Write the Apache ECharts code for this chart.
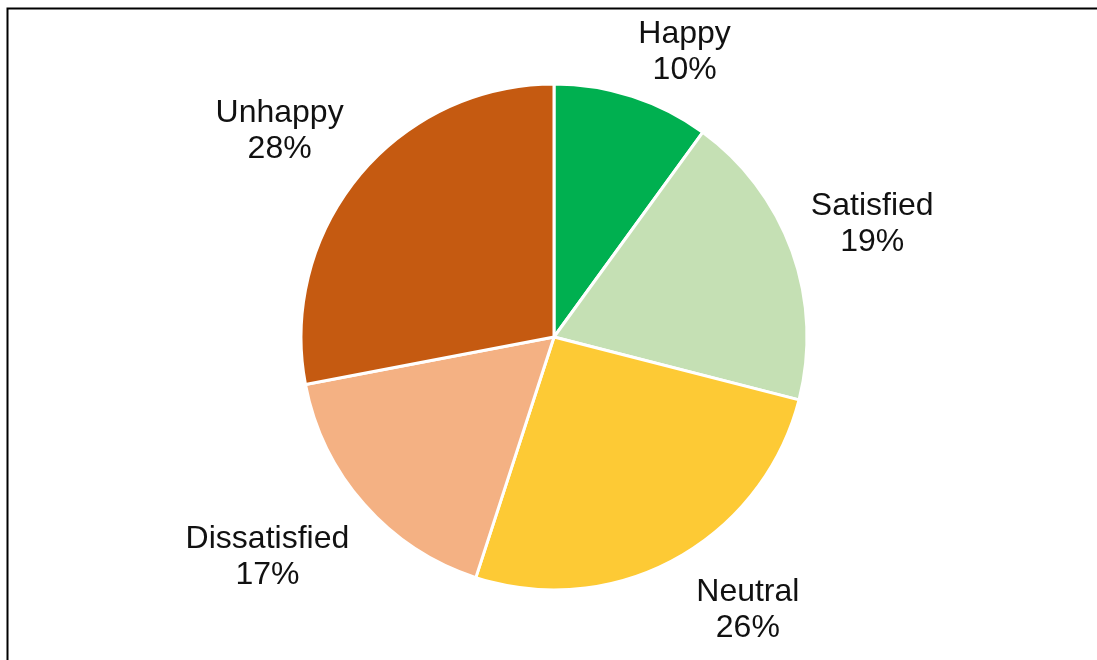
<!DOCTYPE html>
<html>
<head>
<meta charset="utf-8">
<script src="https://cdn.jsdelivr.net/npm/echarts@6/dist/echarts.min.js"></script>
<style>
  html, body { margin: 0; padding: 0; background: #fff; }
  #chart { width: 1097px; height: 660px; }
</style>
</head>
<body>
<div id="chart"></div>
<script>
// Survey mood breakdown, in percent
const categories = ['Happy', 'Satisfied', 'Neutral', 'Dissatisfied', 'Unhappy'];
const values = [10, 19, 26, 17, 28];
const colors = ['#00B050', '#C5E0B4', '#FDCA35', '#F4B183', '#C55A11'];

const CX = 554, CY = 337, R = 253, ANCHOR_R = 273;
const LABEL_TOP = 12, LABEL_BOTTOM = 642;
const GLYPH_DROP = 4; // visual centring of the two text lines inside their box
const total = values.reduce((a, b) => a + b, 0);

// Mid angle of each slice, measured clockwise from 12 o'clock
const midAngles = [];
let acc = 0;
values.forEach(v => { midAngles.push((acc + v / 2) / total * 2 * Math.PI); acc += v; });

// Label box hangs off an anchor point on a ring just outside the pie:
// its inner side touches the anchor horizontally, and vertically too
// except near 3 and 9 o'clock where it stays roughly centred.
function labelCenter(a, w, h) {
  const s = Math.sin(a), c = Math.cos(a);
  const offX = (w / 2) * Math.sign(s);
  const offY = (h / 2) * Math.sign(c) * Math.min(1, 2 * Math.abs(c));
  return {
    x: CX + ANCHOR_R * s + offX,
    y: CY - ANCHOR_R * c - offY
  };
}

const chart = echarts.init(document.getElementById('chart'));
chart.setOption({
  animation: false,
  graphic: [{
    type: 'rect',
    shape: { x: 7.5, y: 8.5, width: 1200, height: 800 },
    style: { fill: 'none', stroke: '#000', lineWidth: 2 },
    silent: true
  }],
  series: [{
    type: 'pie',
    center: [CX, CY],
    radius: [0, R],
    startAngle: 90,
    clockwise: true,
    data: categories.map((name, i) => ({ name, value: values[i], itemStyle: { color: colors[i] } })),
    itemStyle: { borderColor: '#fff', borderWidth: 3 },
    label: {
      show: true,
      position: 'outside',
      formatter: p => p.name + '\n' + p.value + '%',
      fontFamily: 'Liberation Sans, Arial, sans-serif',
      fontSize: 32,
      lineHeight: 36,
      color: '#111',
      align: 'center'
    },
    labelLine: { show: false },
    labelLayout: function (params) {
      const w = params.labelRect.width, h = params.labelRect.height;
      const a = midAngles[params.dataIndex];
      let c = labelCenter(a, w, h);
      if (c.y - h / 2 < LABEL_TOP) {
        // pushed down to stay inside the frame
        c.y = LABEL_TOP + h / 2;
      } else if (c.y + h / 2 > LABEL_BOTTOM) {
        // lifted back inside, sliding along the ring
        const targetY = LABEL_BOTTOM - h / 2;
        const cosB = -(targetY - CY - h / 2) / ANCHOR_R;
        let b = Math.acos(Math.max(-1, Math.min(1, cosB)));
        if (Math.sin(a) < 0) b = 2 * Math.PI - b;
        c = labelCenter(b, w, h);
        c.y = targetY;
      }
      return { x: c.x, y: c.y + GLYPH_DROP, align: 'center', verticalAlign: 'middle' };
    }
  }]
});
</script>
</body>
</html>
